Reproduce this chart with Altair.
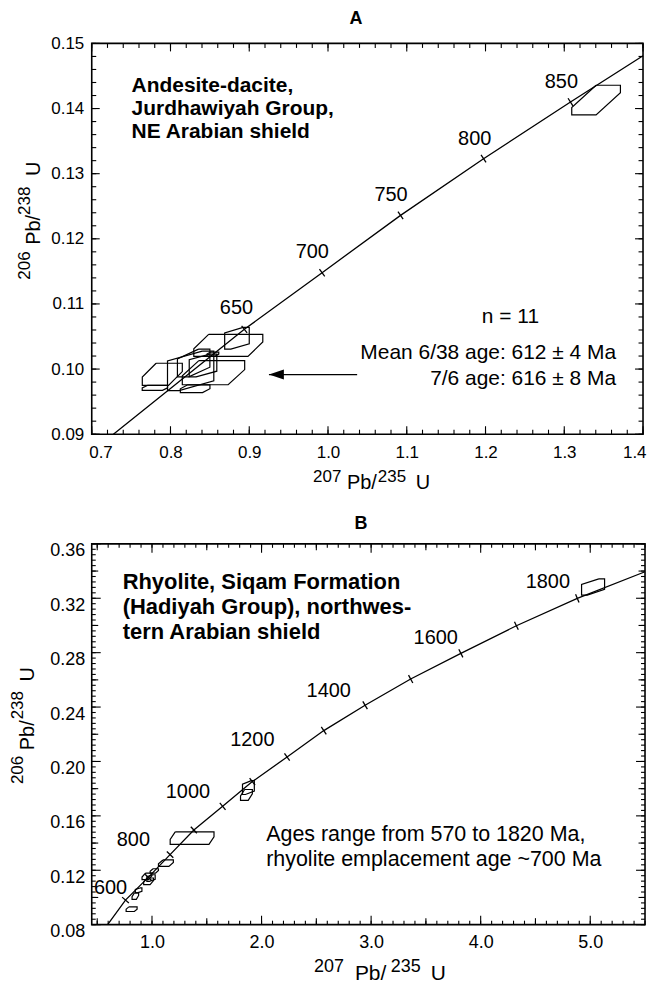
import math
import altair as alt
import pandas as pd

FONT = "Liberation Sans"

# ======================= Panel A data =======================
a_x_domain = [0.7, 1.4]
a_y_domain = [0.09, 0.15]
a_x_major = [0.7, 0.8, 0.9, 1.0, 1.1, 1.2, 1.3, 1.4]
a_y_major = [0.09, 0.10, 0.11, 0.12, 0.13, 0.14, 0.15]
a_x_minor = [round(0.70 + 0.02 * i, 3) for i in range(36)]
a_y_minor = [round(0.090 + 0.002 * i, 4) for i in range(31)]

# concordia: end points and age ticks
a_end_x = [0.7275, 1.4000]
a_end_y = [0.0900, 0.1481]
a_tick_age = [650, 700, 750, 800, 850]
a_tick_x = [0.8938, 0.9925, 1.0921, 1.1975, 1.3079]
a_tick_y = [0.1061, 0.1148, 0.1236, 0.1323, 0.1410]
a_label_x = [0.8838, 0.9800, 1.0800, 1.1863, 1.2963]
a_label_y = [0.1093, 0.1179, 0.1268, 0.1353, 0.1441]

# error boxes: centre, half-widths, corner cut (c) and side cut (d)
a_box_x = [0.8734, 0.8844, 0.8546, 0.8313, 0.7896, 0.7802, 0.8256, 0.8294, 0.8538, 0.8413, 1.3404]
a_box_y = [0.10364, 0.10473, 0.09944, 0.09698, 0.09919, 0.09711, 0.09972, 0.10093, 0.10230, 0.10055, 0.1413]
a_box_ex = [0.0438, 0.0156, 0.0396, 0.0188, 0.0254, 0.0161, 0.0294, 0.0206, 0.0075, 0.0175, 0.0309]
a_box_ey = [0.00169, 0.00167, 0.00185, 0.0006, 0.0017, 0.00038, 0.00304, 0.00213, 0.0003, 0.00175, 0.00228]
a_box_c = [-0.57, 0.5, -0.47, -0.5, -0.31, -0.6, 0.5, 0.3, -0.4, 0.5, 0.0]
a_box_d = [0.69, 1.5, 0.74, 1.0, 0.75, 1.0, 1.5, 1.3, 1.0, 1.5, 0.5]

a_arrow_x = [0.925, 1.037]   # tip, tail
a_arrow_y = [0.09916]

# ======================= Panel B data =======================
b_x_domain = [0.45, 5.5]
b_y_domain = [0.08, 0.36]
b_x_major = [1.0, 2.0, 3.0, 4.0, 5.0]
b_x_mid = [0.5, 1.5, 2.5, 3.5, 4.5]
b_x_minor = [round(0.5 + 0.1 * i, 2) for i in range(51)]
b_y_major = [0.08, 0.12, 0.16, 0.20, 0.24, 0.28, 0.32, 0.36]
b_y_mid = [0.10, 0.14, 0.18, 0.22, 0.26, 0.30, 0.34]
b_y_minor = [round(0.08 + 0.004 * i, 3) for i in range(71)]

b_end_x = [0.595, 5.5]
b_end_y = [0.0800, 0.3395]
b_tick_age = [600, 700, 800, 900, 1000, 1100, 1200, 1300, 1400, 1500, 1600, 1700, 1800]
b_tick_x = [0.758, 0.966, 1.165, 1.382, 1.645, 1.916, 2.233, 2.568, 2.945, 3.361, 3.819, 4.326, 4.882]
b_tick_y = [0.0981, 0.1148, 0.1315, 0.1496, 0.1670, 0.1852, 0.2033, 0.2227, 0.2413, 0.2606, 0.2795, 0.2998, 0.3199]
b_label_age = [600, 800, 1000, 1200, 1400, 1600, 1800]
b_label_x = [0.622, 0.830, 1.328, 1.916, 2.613, 3.590, 4.613]
b_label_y = [0.1068, 0.1424, 0.1772, 0.2156, 0.2519, 0.2911, 0.3317]

b_box_x = [1.366, 5.026, 1.880, 1.862, 1.127, 1.021, 0.954, 0.969, 0.991, 0.878, 0.848, 0.814]
b_box_y = [0.1436, 0.3283, 0.1808, 0.1754, 0.1252, 0.1195, 0.1155, 0.1119, 0.1143, 0.1052, 0.1010, 0.0914]
b_box_ex = [0.200, 0.105, 0.054, 0.054, 0.068, 0.038, 0.045, 0.045, 0.038, 0.030, 0.030, 0.050]
b_box_ey = [0.0046, 0.0060, 0.0051, 0.0040, 0.0024, 0.0016, 0.0024, 0.0024, 0.0024, 0.0018, 0.0024, 0.0017]
b_box_c = [-0.77, 0.5, 0.5, -0.3, -0.4, -0.3, -0.3, -0.3, 0.4, 0.4, -0.3, -0.5]
b_box_d = [0.79, 1.3, 1.5, 0.8, 0.8, 0.8, 0.8, 0.8, 1.4, 1.4, 0.8, 1.0]


# ======================= helpers =======================
def curve_df(end_x, end_y, tx, ty):
    xs = [end_x[0]] + list(tx) + [end_x[1]]
    ys = [end_y[0]] + list(ty) + [end_y[1]]
    return pd.DataFrame({"X": xs, "Y": ys, "k": list(range(len(xs)))})


def tick_df(end_x, end_y, tx, ty, ages, xdom, ydom, W, H):
    xs = [end_x[0]] + list(tx) + [end_x[1]]
    ys = [end_y[0]] + list(ty) + [end_y[1]]
    sx = W / (xdom[1] - xdom[0])
    sy = H / (ydom[1] - ydom[0])
    angs = []
    for i in range(1, len(xs) - 1):
        dx = (xs[i + 1] - xs[i - 1]) * sx
        dy = -(ys[i + 1] - ys[i - 1]) * sy
        angs.append(math.degrees(math.atan2(dy, dx)) % 360)
    return pd.DataFrame({"X": list(tx), "Y": list(ty), "age": ages, "ang": angs})


def box_df(bx, by, bex, bey, bc, bd):
    rows = []
    for i in range(len(bx)):
        c, d = bc[i], bd[i]
        verts = [(c, 1), (1, 1), (1, 1 - d), (-c, -1), (-1, -1), (-1, -1 + d), (c, 1)]
        for k, (u, v) in enumerate(verts):
            rows.append({"id": i, "k": k, "X": bx[i] + u * bex[i], "Y": by[i] + v * bey[i]})
    return pd.DataFrame(rows)


ONE = pd.DataFrame({"k": [0]})


def txt(s, x, y, size, bold=False, align="left", angle=0):
    return alt.Chart(ONE).mark_text(
        text=s, font=FONT, fontSize=size, fontWeight="bold" if bold else "normal",
        align=align, baseline="middle", color="black", angle=angle,
    ).encode(x=alt.value(x), y=alt.value(y))


def label_axis(orient, values, fmt, pad, size, flush=False, loff=0):
    kw = dict(orient=orient, values=values, format=fmt, ticks=False, tickSize=0, domain=False,
              grid=False, title=None, labelFont=FONT, labelFontSize=size, labelColor="black",
              labelPadding=pad, labelOverlap=False, labelOffset=loff)
    if flush:
        kw.update(labelFlush=True, labelFlushOffset=3)
    else:
        kw.update(labelFlush=False)
    return alt.Axis(**kw)


def panel(xdom, ydom, W, H, curve, ticks, boxes, labs, xaxis, yaxis, tickspec, extra):
    xs = alt.Scale(domain=xdom, nice=False, zero=False)
    ys = alt.Scale(domain=ydom, nice=False, zero=False)

    def XE(field):
        return alt.X(field, scale=xs, axis=xaxis)

    def YE(field):
        return alt.Y(field, scale=ys, axis=yaxis)

    layers = []
    layers.append(alt.Chart(curve).mark_line(color="black", strokeWidth=1.3).encode(
        x=XE("X:Q"), y=YE("Y:Q"), order="k:Q"))
    layers.append(alt.Chart(boxes).mark_line(color="black", strokeWidth=1.2).encode(
        x=XE("X:Q"), y=YE("Y:Q"), order="k:Q", detail="id:N"))
    layers.append(alt.Chart(ticks).mark_point(
        shape="M 0 -1 L 0 1", size=81, filled=False, stroke="black", strokeWidth=1.3,
        opacity=1).encode(x=XE("X:Q"), y=YE("Y:Q"), angle=alt.Angle("ang:Q", scale=None)))
    layers.append(alt.Chart(labs).mark_text(
        font=FONT, fontSize=20, color="black", baseline="middle", align="center").encode(
        x=XE("X:Q"), y=YE("Y:Q"), text="t:N"))
    # inward frame ticks on all four sides
    for values, length, sides in tickspec:
        df = pd.DataFrame({"v": values})
        for side in sides:
            if side in ("bottom", "top"):
                yv = H - length / 2 if side == "bottom" else length / 2
                layers.append(alt.Chart(df).mark_tick(
                    orient="vertical", size=length, thickness=1.1, color="black", opacity=1
                ).encode(x=XE("v:Q"), y=alt.value(yv)))
            else:
                xv = length / 2 if side == "left" else W - length / 2
                layers.append(alt.Chart(df).mark_tick(
                    orient="horizontal", size=length, thickness=1.1, color="black", opacity=1
                ).encode(y=YE("v:Q"), x=alt.value(xv)))
    layers += extra(XE, YE)
    return alt.layer(*layers).properties(width=W, height=H)


# ======================= Panel A =======================
WA, HA = 553, 392
curveA = curve_df(a_end_x, a_end_y, a_tick_x, a_tick_y)
ticksA = tick_df(a_end_x, a_end_y, a_tick_x, a_tick_y, a_tick_age, a_x_domain, a_y_domain, WA, HA)
boxesA = box_df(a_box_x, a_box_y, a_box_ex, a_box_ey, a_box_c, a_box_d)
labsA = pd.DataFrame({"X": a_label_x, "Y": a_label_y, "t": [str(a) for a in a_tick_age]})
arrowA = pd.DataFrame({"x0": [a_arrow_x[0]], "x1": [a_arrow_x[1]], "y": a_arrow_y})


def extraA(XE, YE):
    arrow_line = alt.Chart(arrowA).mark_rule(color="black", strokeWidth=1.2).encode(
        x=XE("x0:Q"), x2="x1:Q", y=YE("y:Q"))
    arrow_head = alt.Chart(arrowA).mark_point(
        shape="M 0 0 L 2 -0.667 L 2 0.667 Z", size=225, filled=True, color="black",
        opacity=1).encode(x=XE("x0:Q"), y=YE("y:Q"))
    return [
        arrow_line, arrow_head,
        txt("A", 265, -24, 18, bold=True, align="center"),
        txt("Andesite-dacite,", 40, 43, 21, bold=True),
        txt("Jurdhawiyah Group,", 40, 66, 21, bold=True),
        txt("NE Arabian shield", 40, 89, 21, bold=True),
        txt("n = 11", 420, 274, 21, align="center"),
        txt("Mean 6/38 age: 612 \u00b1 4 Ma", 526, 311, 21, align="right"),
        txt("7/6 age: 616 \u00b1 8 Ma", 526, 337, 21, align="right"),
        # x-axis title 207Pb/235U
        txt("207", 222, 435, 17),
        txt("Pb/", 256, 441, 20),
        txt("235", 287, 435, 17),
        txt("U", 325, 441, 20),
        # y-axis title 206Pb/238U (rotated)
        txt("206", -67, 237, 17, angle=270),
        txt("Pb/", -58, 202, 20, angle=270),
        txt("238", -67, 172, 17, angle=270),
        txt("U", -58, 133, 20, angle=270),
    ]


tickspecA = [(a_x_major, 8, ("bottom", "top")), (a_x_minor, 4.5, ("bottom", "top")),
             (a_y_major, 8, ("left", "right")), (a_y_minor, 4.5, ("left", "right"))]
panelA = panel(a_x_domain, a_y_domain, WA, HA, curveA, ticksA, boxesA, labsA,
               label_axis("bottom", a_x_major, ".1f", 10, 17, flush=True),
               label_axis("left", a_y_major, ".2f", 8, 17),
               tickspecA, extraA)

# ======================= Panel B =======================
WB, HB = 555, 382
curveB = curve_df(b_end_x, b_end_y, b_tick_x, b_tick_y)
ticksB = tick_df(b_end_x, b_end_y, b_tick_x, b_tick_y, b_tick_age, b_x_domain, b_y_domain, WB, HB)
boxesB = box_df(b_box_x, b_box_y, b_box_ex, b_box_ey, b_box_c, b_box_d)
labsB = pd.DataFrame({"X": b_label_x, "Y": b_label_y, "t": [str(a) for a in b_label_age]})


def extraB(XE, YE):
    return [
        txt("B", 270, -20, 18, bold=True, align="center"),
        txt("Rhyolite, Siqam Formation", 31, 38, 22, bold=True),
        txt("(Hadiyah Group), northwes-", 31, 63, 22, bold=True),
        txt("tern Arabian shield", 31, 88, 22, bold=True),
        txt("Ages range from 570 to 1820 Ma,", 175, 292, 21.5),
        txt("rhyolite emplacement age ~700 Ma", 175, 317, 21.5),
        txt("207", 223, 424, 18),
        txt("Pb/", 264, 432, 21),
        txt("235", 300, 424, 18),
        txt("U", 340, 432, 21),
        txt("206", -74, 241, 17, angle=270),
        txt("Pb/", -64, 207, 20, angle=270),
        txt("238", -74, 176, 17, angle=270),
        txt("U", -64, 138, 20, angle=270),
    ]


tickspecB = [(b_x_major, 9, ("bottom", "top")), (b_x_mid, 6.5, ("bottom", "top")),
             (b_x_minor, 4, ("bottom", "top")),
             (b_y_major, 9, ("left", "right")), (b_y_mid, 6.5, ("left", "right")),
             (b_y_minor, 4, ("left", "right"))]
panelB = panel(b_x_domain, b_y_domain, WB, HB, curveB, ticksB, boxesB, labsB,
               label_axis("bottom", b_x_major, ".1f", 9, 18),
               label_axis("left", b_y_major, ".2f", 7, 18, loff=7),
               tickspecB, extraB)

chart = alt.vconcat(panelA, panelB, spacing=110, bounds="flush").configure_view(
    stroke="black", strokeWidth=1.6
).properties(padding={"left": 0, "top": 0, "right": 0, "bottom": 0})

chart.save("out.html", embed_options={"renderer": "svg", "actions": False})
